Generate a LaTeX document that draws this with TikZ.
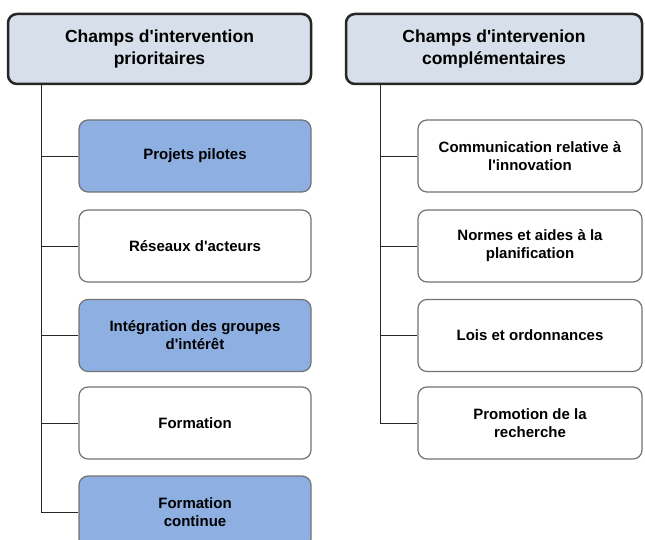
\documentclass[tikz,border=0pt]{standalone}
\usepackage{fontspec}
\setmainfont{Liberation Sans}
\usetikzlibrary{positioning}
\definecolor{headfill}{HTML}{D6DFEA}
\definecolor{hilitefill}{HTML}{8DAFE2}
\newcommand{\ap}{\textquotesingle}
\begin{document}
\begin{tikzpicture}[x=1pt, y=-1pt,
    head/.style={draw=black!85, line width=2.5pt, fill=headfill, rounded corners=9pt, minimum height=70pt, align=center, font=\fontsize{17.5}{22}\selectfont\bfseries},
    item/.style={draw=black!55, line width=1.2pt, fill=white, rounded corners=9pt, minimum height=72pt, align=center, font=\fontsize{15}{18}\selectfont\bfseries},
    hilite/.style={item, fill=hilitefill},
    link/.style={draw=black!85, line width=0.8pt}]
        \useasboundingbox (0,0) rectangle (645,540);
        % left column
        \node[head, minimum width=303pt] (hl) at (159.5, 49) {Champs d\ap intervention\\prioritaires};
        \node[hilite, minimum width=232pt] (pp) at (195, 156) {Projets pilotes};
        \node[item, minimum width=232pt] (ra) at (195, 246) {Réseaux d\ap acteurs};
        \node[hilite, minimum width=232pt] (ig) at (195, 335.5) {Intégration des groupes\\d\ap intérêt};
        \node[item, minimum width=232pt] (fo) at (195, 423) {Formation};
        \node[hilite, minimum width=232pt] (fc) at (195, 512) {Formation\\continue};
        \draw[link] ([xshift=35pt]hl.south west) |- (pp.west);
        \draw[link] ([xshift=35pt]hl.south west) |- (ra.west);
        \draw[link] ([xshift=35pt]hl.south west) |- (ig.west);
        \draw[link] ([xshift=35pt]hl.south west) |- (fo.west);
        \draw[link] ([xshift=35pt]hl.south west) |- (fc.west);
        % right column
        \node[head, minimum width=296pt] (hr) at (494, 49) {Champs d\ap intervenion\\complémentaires};
        \node[item, minimum width=224pt] (co) at (530, 156) {Communication relative à\\l\ap innovation};
        \node[item, minimum width=224pt] (np) at (530, 246) {Normes et aides à la\\planification};
        \node[item, minimum width=224pt] (lo) at (530, 335.5) {Lois et ordonnances};
        \node[item, minimum width=224pt] (pr) at (530, 423) {Promotion de la\\recherche};
        \draw[link] ([xshift=36pt]hr.south west) |- (co.west);
        \draw[link] ([xshift=36pt]hr.south west) |- (np.west);
        \draw[link] ([xshift=36pt]hr.south west) |- (lo.west);
        \draw[link] ([xshift=36pt]hr.south west) |- (pr.west);
    \end{tikzpicture}
\end{document}
